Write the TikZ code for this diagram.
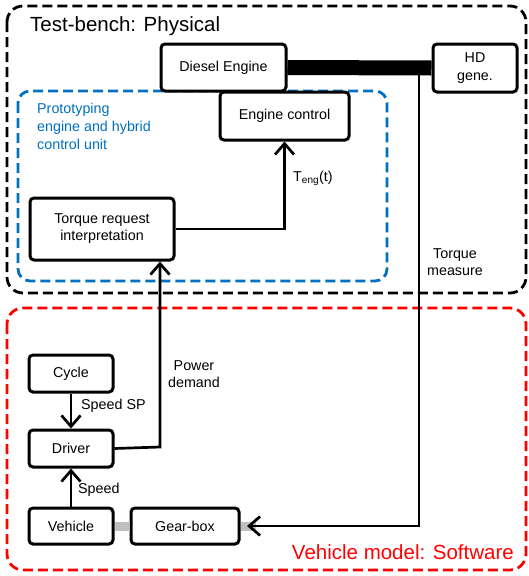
\documentclass[tikz,border=0pt]{standalone}
\usepackage{fontspec}
\setmainfont{Liberation Sans}
\usetikzlibrary{arrows.meta,calc}
\definecolor{myblue}{HTML}{0070C0}
\definecolor{myred}{HTML}{FF0000}
\definecolor{mygrey}{HTML}{BFBFBF}
\tikzset{
  blk/.style={draw=black, line width=3pt, rounded corners=4pt, fill=white, align=center, inner sep=0pt,
    font=\fontsize{14.3}{17}\selectfont},
  conn/.style={draw=black, line width=2.7pt},
  arr/.style={conn, -{Straight Barb[length=11pt,width=19pt,line width=2.7pt]}},
  zone/.style={line width=2.8pt, dash pattern=on 10pt off 5pt},
  lbl/.style={font=\fontsize{14.3}{17}\selectfont, inner sep=0pt},
  shaft/.style={draw=mygrey, line width=9pt},
}
\begin{document}
\begin{tikzpicture}[x=1pt,y=-1pt]
\useasboundingbox (0,0) rectangle (528,576);
% zones
\draw[zone, black, rounded corners=16pt] (7,6) rectangle (526,293);
\draw[zone, myred, rounded corners=16pt] (7,308) rectangle (526,570);
\draw[zone, myblue, rounded corners=12pt] (18,91) rectangle (387,281);
% zone titles
\node[lbl, anchor=west, font=\fontsize{20.5}{24}\selectfont] (ttb) at (30,26) {Test-bench: Physical};
\node[lbl, anchor=west, align=left, text=myblue, font=\fontsize{14.3}{18}\selectfont] (tpr) at (37,126) {Prototyping\\engine and hybrid\\control unit};
\node[lbl, anchor=east, text=myred, font=\fontsize{20.5}{24}\selectfont] (tvm) at (514,552) {Vehicle model: Software};
% blocks
\node[blk, minimum width=125pt, minimum height=47pt] (diesel) at (223.5,67.5) {Diesel Engine};
\node[blk, minimum width=84pt, minimum height=48pt, font=\fontsize{14.3}{18}\selectfont] (hd) at (475,68) {HD\\gene.};
\node[blk, minimum width=129pt, minimum height=48pt] (engctl) at (284.5,116) {Engine control};
\node[blk, minimum width=144pt, minimum height=62pt] (treq) at (102,229) {Torque request\\interpretation};
\node[blk, minimum width=84pt, minimum height=37pt] (cycle) at (71,373.5) {Cycle};
\node[blk, minimum width=84pt, minimum height=37pt] (driver) at (71,448.5) {Driver};
\node[blk, minimum width=84pt, minimum height=36pt] (vehicle) at (71,526) {Vehicle};
\node[blk, minimum width=108pt, minimum height=36pt] (gearbox) at (185,526) {Gear-box};
% mechanical links
\draw[line width=15pt] (diesel.east) -- (hd.west);
\draw[shaft] (vehicle.east) -- (gearbox.west);
\coordinate (gbend) at (256,526);
\draw[shaft] (gearbox.east) -- (gbend);
% torque measure
\coordinate (tm) at (419,75);
\coordinate (gbin) at (247,526);
\draw[arr] (tm) |- (gbin);
\node[lbl, align=center] (ltm) at (455,262) {Torque\\measure};
% signals
\draw[arr] (treq.east) -| (engctl.south);
\node[lbl, anchor=west] (lteng) at (293,178) {T\textsubscript{eng}(t)};
\coordinate (pd) at (160,447);
\draw[arr] (driver.east) -- (pd) -- (pd |- treq.south);
\node[lbl, align=center] (lpd) at (194,374) {Power\\demand};
\draw[arr] (cycle.south) -- (driver.north);
\node[lbl, anchor=west] (lssp) at (81,406) {Speed SP};
\draw[arr] (vehicle.north) -- (driver.south);
\node[lbl, anchor=west] (lsp) at (78,490) {Speed};
\end{tikzpicture}
\end{document}
